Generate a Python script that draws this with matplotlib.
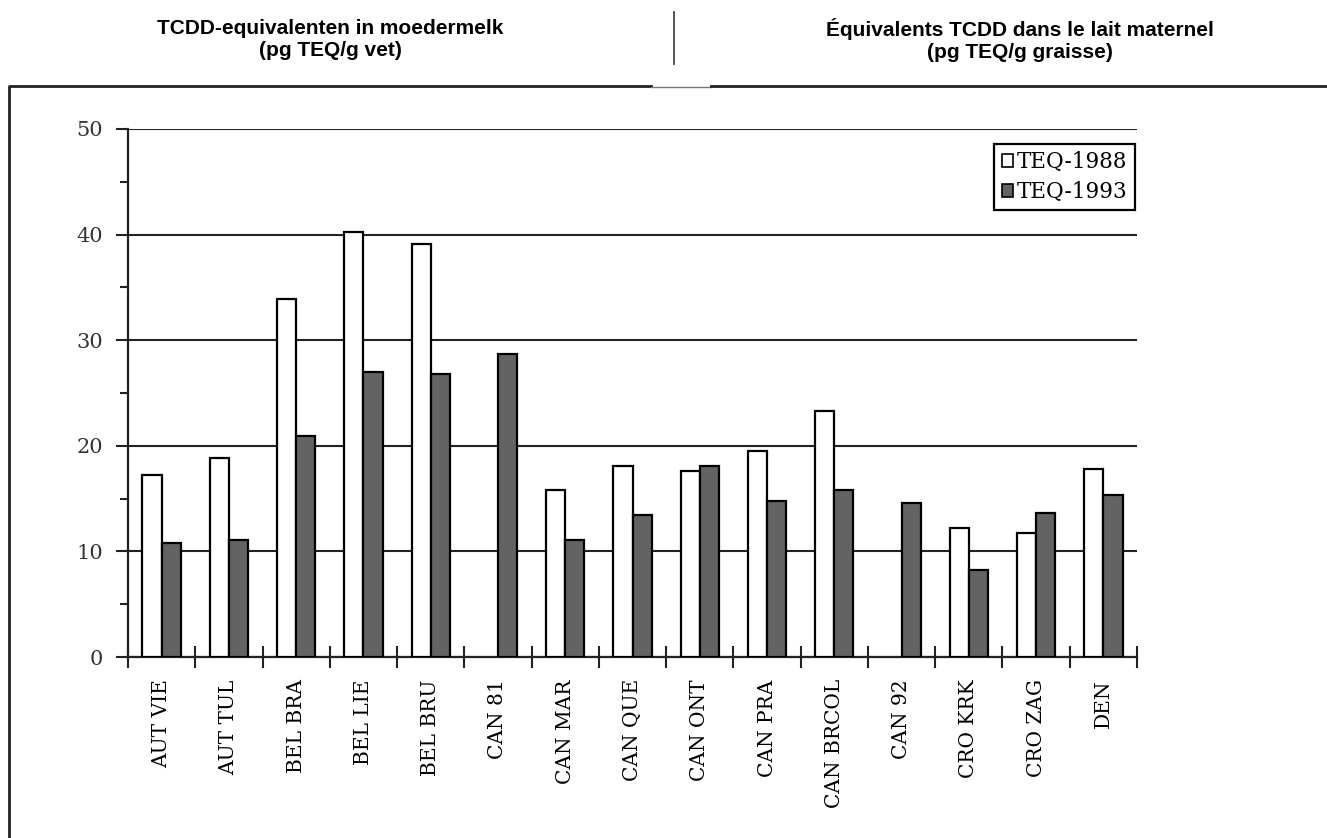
import numpy as np
import matplotlib
matplotlib.use("Agg")
import matplotlib.pyplot as plt
from matplotlib.patches import Patch
from matplotlib.lines import Line2D

# Datos
landen = ["AUT VIE", "AUT TUL", "BEL BRA", "BEL LIE", "BEL BRU", "CAN 81", "CAN MAR",
          "CAN QUE", "CAN ONT", "CAN PRA", "CAN BRCOL", "CAN 92", "CRO KRK", "CRO ZAG", "DEN"]
teq_1988 = [17.2, 18.85, 33.9, 40.2, 39.1, np.nan, 15.8, 18.1, 17.6, 19.5, 23.3, np.nan, 12.25, 11.7, 17.8]
teq_1993 = [10.8, 11.05, 20.9, 27.0, 26.8, 28.7, 11.1, 13.4, 18.1, 14.8, 15.8, 14.6, 8.2, 13.6, 15.3]
reeksen = ["TEQ-1988", "TEQ-1993"]
kop_nl = "TCDD-equivalenten in moedermelk\n(pg TEQ/g vet)"
kop_fr = "Équivalents TCDD dans le lait maternel\n(pg TEQ/g graisse)"

W, H = 1327, 838
donker = "#636363"

fig = plt.figure(figsize=(W / 100, H / 100), dpi=100)

def px(x, y):
    return x / W, 1 - y / H

# Koppen
fig.text(*px(330, 40), kop_nl, ha="center", va="center", fontsize=15,
         fontweight="bold", family="Liberation Sans", linespacing=1.2)
fig.text(*px(1020, 40), kop_fr, ha="center", va="center", fontsize=15,
         fontweight="bold", family="Liberation Sans", linespacing=1.2)

# Scheidingslijn en kader
fig.add_artist(Line2D([674 / W] * 2, [1 - 12 / H, 1 - 64 / H], color="#444444", lw=1.3))
fig.add_artist(Line2D([9 / W, 9 / W, 651 / W], [0, 1 - 86 / H, 1 - 86 / H], color="#222222", lw=2))
fig.add_artist(Line2D([651 / W, 711 / W], [1 - 87 / H] * 2, color="#777777", lw=1))
fig.add_artist(Line2D([711 / W, 1], [1 - 86 / H] * 2, color="#222222", lw=2))

# Grafiek
x0, x1, y0, y1 = 128, 1137, 657, 129
ax = fig.add_axes([x0 / W, 1 - y0 / H, (x1 - x0) / W, (y0 - y1) / H])

n = len(landen)
xc = np.arange(n) + 0.5
w = 0.285
a = np.array(teq_1988)
b = np.array(teq_1993)
m = ~np.isnan(a)
ax.bar(xc[m] - w / 2, a[m], width=w, color="white", edgecolor="black", lw=1.6, zorder=3)
ax.bar(xc - w / 2 + w, b, width=w, color=donker, edgecolor="black", lw=1.6, zorder=3)

ax.set_xlim(0, n)
ax.set_ylim(0, 50)
ax.set_yticks(np.arange(0, 51, 10))
ax.set_yticks(np.arange(5, 50, 10), minor=True)
ax.yaxis.grid(True, which="major", color="#222222", lw=1.5, zorder=0)
ax.set_axisbelow(True)

ax.set_xticks(xc)
ax.set_xticklabels(landen, rotation=90, family="DejaVu Serif", fontsize=14.5)
ax.set_xticks(np.arange(0, n + 1), minor=True)
ax.tick_params(axis="x", which="major", length=0, pad=16)
ax.tick_params(axis="x", which="minor", direction="inout", length=16, width=1.5, color="#222222")
ax.tick_params(axis="y", which="major", length=9, width=1.5, pad=9, color="#222222")
ax.tick_params(axis="y", which="minor", length=6, width=1.5, color="#222222")
for t in ax.get_yticklabels():
    t.set_family("DejaVu Serif")
    t.set_fontsize(15)
    t.set_color("#333333")

for s in ["top", "right"]:
    ax.spines[s].set_visible(False)
for s in ["left", "bottom"]:
    ax.spines[s].set_linewidth(1.6)
    ax.spines[s].set_color("#222222")

handles = [Patch(facecolor="white", edgecolor="black", lw=1.2),
           Patch(facecolor=donker, edgecolor="black", lw=1.2)]
leg = ax.legend(handles, reeksen, loc="upper right", bbox_to_anchor=(0.998, 0.972),
                borderaxespad=0, fancybox=False, edgecolor="black", framealpha=1,
                prop={"family": "DejaVu Serif", "size": 15.5},
                handlelength=0.55, handleheight=0.55, handletextpad=0.15,
                borderpad=0.35, labelspacing=0.35)
leg.get_frame().set_linewidth(1.6)

fig.savefig("out.png", dpi=100)
